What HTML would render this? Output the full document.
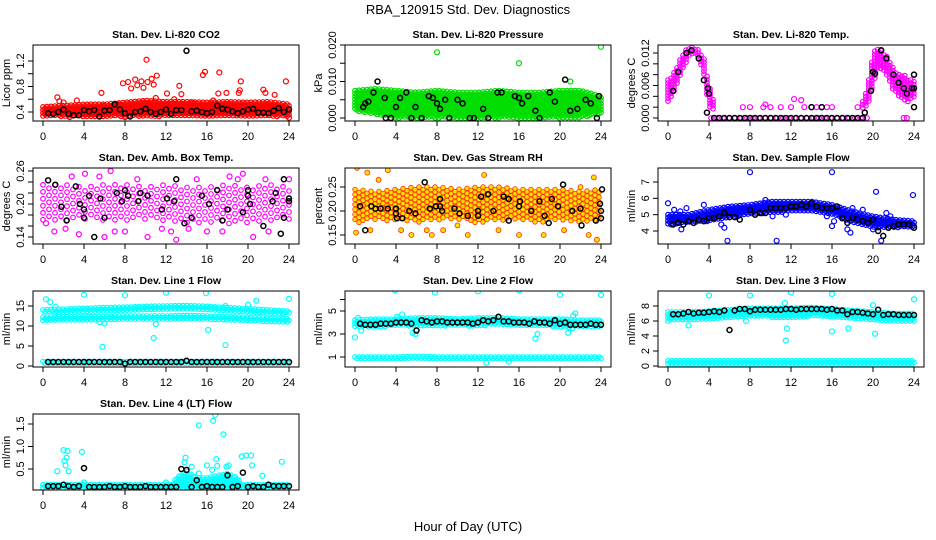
<!DOCTYPE html>
<html><head><meta charset="utf-8"><style>
body{margin:0;background:#fff;}
svg{display:block;font-family:"Liberation Sans",Arial,sans-serif;}
</style></head><body>
<svg id="c" width="936" height="540" viewBox="0 0 936 540">
<rect width="936" height="540" fill="#fff"/>
<text x="468" y="14" font-size="13" text-anchor="middle">RBA_120915  Std. Dev. Diagnostics</text>
<text x="468" y="531" font-size="13" text-anchor="middle">Hour of Day (UTC)</text>
</svg>
<script>
// ---- data ----
const co2BlkT=[0.5,1,1.5,2,2.5,3,3.5,4,4.5,5,5.5,6,6.5,7,7.5,8,8.5,9,9.5,10,10.5,11,11.5,12,12.5,13,13.5,14,14.5,15,15.5,16,16.5,17,17.5,18,18.5,19,19.5,20,20.5,21,21.5,22,22.5,23,23.5,24];
const co2BlkV=[0.38,0.37,0.40,0.44,0.37,0.35,0.35,0.43,0.41,0.43,0.33,0.42,0.43,0.52,0.44,0.38,0.33,0.40,0.41,0.45,0.40,0.37,0.40,0.44,0.37,0.43,0.43,1.36,0.41,0.42,0.40,0.38,0.40,0.50,0.45,0.44,0.41,0.38,0.41,0.44,0.45,0.39,0.39,0.38,0.42,0.46,0.40,0.44];
const co2OutT=[1.4,1.6,2,3.3,5.7,7.8,8.3,8.6,9,9.2,9.6,9.8,10.1,10.2,10.6,10.8,11.1,11,12.1,13.3,13.5,12.8,15.6,15.8,17.2,17.1,17.9,19.1,19.3,19.2,21.5,21.7,22.6,23.7,24,2.6,8,14.6,16.6,6,7.3];
const co2OutV=[0.63,0.57,0.55,0.58,0.70,0.85,0.87,0.77,0.91,0.82,0.88,0.78,1.22,0.87,0.92,0.83,0.97,0.62,0.69,0.81,0.68,0.60,0.98,1.03,1.02,0.69,0.70,0.70,0.88,0.74,0.75,0.70,0.67,0.88,0.31,0.32,0.32,0.55,0.58,0.50,0.52];
const bandH2=[0,2,4,6,8,10,12,14,16,18,20,22,24];
const co2Lo=[0.33,0.33,0.33,0.33,0.33,0.33,0.33,0.33,0.33,0.33,0.33,0.33,0.33];
const co2Hi=[0.48,0.50,0.52,0.52,0.55,0.58,0.56,0.56,0.55,0.56,0.55,0.56,0.52];

const prBlkT=[0.8,1,1.3,1.8,2.2,2.9,3,3.5,4,4.4,5,5.5,5.9,6.5,7.2,7.6,8,8.3,8.8,9.2,10,10.5,11.2,11.6,12.5,13,13.9,14.3,15.6,16,16.3,16.9,17.6,18,19,19.5,20.5,21,21.7,22.5,23,23.6,23.8];
const prBlkV=[0.003,0.004,0.0045,0.007,0.010,0.0055,0,0,0.003,0.0055,0.007,0,0.003,0,0.006,0.0055,0.004,0.0025,0.005,0,0.005,0.004,0,0,0.0025,0,0.007,0.007,0.006,0.0055,0.004,0.006,0.002,0,0.007,0.0045,0.0105,0.002,0.0025,0.005,0.004,0,0.006];
const prOutT=[8,16,24,21];
const prOutV=[0.018,0.015,0.0195,0.010];
const prLo=[0.002,0.001,0.000,0.000,0.000,0.000,0.000,0.000,0.000,0.000,0.000,0.000,0.001];
const prHi=[0.0075,0.008,0.0075,0.007,0.0075,0.007,0.007,0.0075,0.007,0.007,0.0075,0.0075,0.006];

const tpH1=[0,0.5,1,1.5,2,2.5,3,3.5,4,4.5];
const tpLo1=[0.003,0.004,0.007,0.009,0.011,0.012,0.011,0.008,0.002,0.0015];
const tpHi1=[0.007,0.008,0.010,0.012,0.013,0.013,0.0125,0.011,0.006,0.003];
const tpH0=[4.2,19.5];
const tpLo0=[0,0];
const tpHi0=[0,0];
const tpH2=[19,19.5,20,20.5,21,21.5,22,22.5,23,23.5,24];
const tpLo2=[0.0015,0.002,0.006,0.009,0.009,0.007,0.005,0.004,0.003,0.003,0.004];
const tpHi2=[0.003,0.006,0.012,0.013,0.012,0.011,0.009,0.008,0.008,0.007,0.007];
const tpOutT=[7.3,8,9.3,9.5,10,11,12,12.3,13,13.3,14,14.5,15,15.5,16,18.5,23,23.3];
const tpOutV=[0.002,0.002,0.002,0.0025,0.002,0.002,0.002,0.0035,0.0033,0.002,0.002,0.002,0.002,0.002,0.002,0.002,0,0];
const tpBlkT=[0.5,1,1.8,2.3,3,3.5,3.9,4,3.8,4.5,5,5.5,6,6.5,7,7.5,8,8.5,9,9.5,10,10.5,11,11.5,12,12.5,13,13.5,14,14.5,15,15.5,16,16.5,17,17.5,18,18.5,19,14,15,19.2,19.8,20,20.2,20.8,21.3,22,22.5,23,23.3,23.8,24,24,24];
const tpBlkV=[0.005,0.0085,0.012,0.0125,0.011,0.007,0.0055,0.0045,0.001,0,0,0,0,0,0,0,0,0,0,0,0,0,0,0,0,0,0,0,0,0,0,0,0,0,0,0,0,0,0,0.002,0.002,0.001,0.005,0.0085,0.0082,0.0125,0.011,0.008,0.0065,0.0055,0.0045,0.0055,0.008,0.0055,0.002];

const amLo=[0.17,0.165,0.17,0.165,0.17,0.17,0.165,0.165,0.165,0.16,0.165,0.165,0.17];
const amHi=[0.235,0.235,0.23,0.235,0.235,0.23,0.235,0.23,0.23,0.235,0.23,0.235,0.23];
const amOutT=[1.1,2.2,3.5,4.1,5.5,6,6.6,7,8,9.2,10.2,11.6,12.5,13,15,16,17.5,19,19.5,20.5,21.7,22,23.5,24,0.3,2.8,14.2,18.2];
const amOutV=[0.15,0.155,0.145,0.255,0.25,0.14,0.26,0.15,0.15,0.245,0.14,0.155,0.15,0.135,0.245,0.15,0.15,0.245,0.255,0.14,0.245,0.15,0.245,0.245,0.165,0.25,0.155,0.25];
const amBlkT=[0.5,1.2,1.8,2.3,3.2,3.6,4,4,4.5,5,5.6,6,7.2,7.7,8,8.3,9.5,9.3,10.2,11.6,12.1,13,12.8,13.8,14.5,15.5,17,17.5,18,20,20.2,21.5,22.4,22.7,23.5,24,24,23.5,23.2,16.2,19.5,20];
const amBlkV=[0.243,0.235,0.195,0.17,0.232,0.2,0.19,0.175,0.215,0.14,0.21,0.175,0.22,0.205,0.225,0.215,0.22,0.205,0.215,0.19,0.21,0.245,0.205,0.165,0.175,0.215,0.225,0.17,0.19,0.215,0.2,0.16,0.205,0.22,0.175,0.205,0.21,0.245,0.146,0.2,0.185,0.225];

const gsLo=[0.175,0.18,0.18,0.175,0.18,0.18,0.175,0.18,0.18,0.175,0.18,0.175,0.18];
const gsHi=[0.245,0.24,0.245,0.25,0.25,0.245,0.25,0.25,0.245,0.245,0.245,0.24,0.245];
const gsOutT=[0.2,1.2,1.5,2.3,3.2,4.5,5.5,7,7.5,8.6,10,11,12.6,14,16,18.4,20.4,22,22.8,23.3,23.6,0.1];
const gsOutV=[0.29,0.28,0.16,0.265,0.285,0.16,0.15,0.16,0.15,0.16,0.17,0.15,0.275,0.16,0.15,0.15,0.16,0.25,0.15,0.27,0.14,0.155];
const gsBlkT=[0.5,1,1.6,2,2.5,3.2,4,4,4.1,4.6,5.3,5.9,6.8,7.3,7.9,8.3,8.3,8.5,9.7,10.2,11,12,12,12.3,13,13.5,14.5,15,15,16,16.1,17.2,18,18.5,19.2,19.8,21.2,22,23.5,24.1,24,24,23.9,22.1,20.3,18.9];
const gsBlkV=[0.21,0.16,0.21,0.205,0.205,0.205,0.205,0.195,0.185,0.185,0.2,0.195,0.26,0.205,0.21,0.225,0.21,0.2,0.205,0.195,0.19,0.2,0.19,0.23,0.235,0.2,0.23,0.225,0.18,0.21,0.22,0.2,0.22,0.19,0.225,0.21,0.2,0.205,0.18,0.245,0.2,0.185,0.215,0.17,0.255,0.175];

const sfLo=[4.4,4.5,4.6,4.8,5.0,5.1,5.2,5.2,5.0,4.5,4.2,4.2,4.2];
const sfHi=[5.0,5.0,5.3,5.5,5.6,5.8,5.8,5.8,5.6,5.2,4.9,4.7,4.6];
const sfOutT=[0,0.3,0.6,1.2,1.3,1.8,3.5,3.8,5.2,5.5,5.8,8,9.5,10.2,10.6,11.5,15.5,16,16,16.2,17.5,17.8,20.3,20.8,21.3,21.7,23.9,20,18,19];
const sfOutV=[5.7,4.4,5.3,5.2,4.1,5.4,5.6,4.6,4.4,4.2,3.4,7.6,5.9,4.9,3.4,5.0,4.9,7.6,4.3,4.6,4.1,3.9,6.4,3.4,5.1,4.9,6.2,4.1,5.4,5.3];
const sfBlkT=[0.5,1,1.5,2,2.5,3,3.5,4,4.5,5,5.5,6,6.5,7,8,8.5,9,9.5,10,10.5,11,11.5,12,12.5,13,13.5,14,14.5,15,15.5,16,16.5,17,17.5,18,18.5,19,19.5,20,20.5,21,21.5,22,22.5,23,23.5,24];
const sfBlkV=[4.4,4.5,4.4,4.6,4.5,4.7,4.6,4.8,4.8,4.9,5.1,4.85,4.85,4.7,5.3,5.0,5.1,5.1,5.4,5.4,5.4,5.4,5.5,5.5,5.6,5.5,5.7,5.5,5.4,5.4,5.4,5.5,4.8,4.5,4.8,4.7,4.6,4.5,4.7,4.0,3.7,4.2,4.3,4.4,4.4,4.4,4.2];

const l1LoA=[11.3,11.4,11.5,11.5,11.6,11.6,11.6,11.6,11.5,11.4,11.3,11.1,11.0];
const l1HiA=[12.2,12.3,12.3,12.4,12.5,12.5,12.5,12.6,12.5,12.3,12.2,11.9,11.8];
const l1LoB=[13.3,13.4,13.5,13.7,13.9,14.0,14.2,14.3,14.1,13.8,13.4,13.1,13.0];
const l1HiB=[14.0,14.2,14.4,14.6,14.7,14.9,15.0,15.1,14.9,14.6,14.3,14.0,13.7];
const l1LoC=[0.7,0.7,0.7,0.7,0.7,0.7,0.7,0.7,0.7,0.7,0.7,0.7,0.7];
const l1HiC=[1.1,1.1,1.1,1.1,1.1,1.1,1.1,1.1,1.1,1.1,1.1,1.1,1.1];
const l1OutT=[0.3,0.7,1.2,4,5.5,5.8,6,8,10.8,11,12,15.9,16.1,17.8,17.8,20,20.8,24];
const l1OutV=[16.7,16,14.8,17.8,11,4.8,10.6,17.7,7,10.5,18.3,18.2,9,5.2,15,15.3,16.3,16.8];
const stdT=[0.5,1,1.5,2,2.5,3,3.5,4,4.5,5,5.5,6,6.5,7,7.5,8,8.5,9,9.5,10,10.5,11,11.5,12,12.5,13,13.5,14,14.5,15,15.5,16,16.5,17,17.5,18,18.5,19,19.5,20,20.5,21,21.5,22,22.5,23,23.5,24];
const l1BlkV=[1,1,1,1,1,1,1,1,1,1,1,1,1,1,1,0.6,1,1,1,1,1,1,1,1,1,1,1,1.3,1,1,1,1,1,1,1,1,1,1,1,1,1,1,1,1,1,1,1,1];

const l2LoA=[3.6,3.6,3.7,3.7,3.7,3.7,3.7,3.8,3.7,3.7,3.6,3.6,3.6];
const l2HiA=[4.2,4.3,4.3,4.4,4.4,4.3,4.4,4.4,4.3,4.3,4.3,4.2,4.2];
const l2LoB=[0.8,0.8,0.8,0.8,0.8,0.8,0.8,0.8,0.8,0.8,0.8,0.8,0.8];
const l2HiB=[1.0,1.0,1.0,1.05,1.0,1.0,1.0,1.0,1.0,1.0,1.0,1.0,1.0];
const l2OutT=[0,0.3,0.6,3.9,4.1,4.6,5.6,5.9,7.8,12,12.8,16,15,17.6,17.8,20,20.8,21.2,21.3,21.5,24];
const l2OutV=[2.7,4.4,3.3,6.8,4.5,4.7,3.1,3.0,6.6,6.7,0.5,6.8,0.6,2.6,3.0,6.4,3.1,3.5,4.6,4.8,6.4];
const l2BlkV=[3.9,3.8,3.8,3.8,3.9,3.9,3.9,4.0,4.0,4.0,3.9,3.3,4.2,4.1,4.0,4.1,4.1,4.0,4.0,4.0,4.0,4.0,3.9,4.0,4.2,4.1,4.2,4.5,4.1,4.1,4.0,4.0,4.0,3.9,4.1,4.0,4.0,3.9,4.2,3.9,4.0,3.8,3.8,3.8,3.8,3.9,3.8,3.8];

const l3LoA=[6.0,6.2,6.3,6.5,6.6,6.5,6.5,6.6,6.5,6.3,6.0,5.9,6.0];
const l3HiA=[7.2,7.2,7.3,7.5,7.7,7.7,7.7,7.8,7.6,7.4,7.2,7.0,7.0];
const l3LoB=[0.3,0.3,0.3,0.3,0.3,0.3,0.3,0.3,0.3,0.3,0.3,0.3,0.3];
const l3HiB=[0.7,0.7,0.7,0.7,0.7,0.7,0.7,0.7,0.7,0.7,0.7,0.7,0.7];
const l3OutT=[2,4,8,11.4,11.5,11.6,12,16,16,17.6,20,20.2,24,7.6];
const l3OutV=[5.4,9.4,9.4,8.4,3.4,5.0,9.8,9.6,4.6,5.0,8.1,4.3,8.9,6.0];
const l3BlkV=[6.9,6.9,7.0,7.2,7.0,7.1,7.1,7.2,7.3,7.2,7.4,4.8,7.4,7.6,7.6,7.3,7.5,7.5,7.5,7.5,7.5,7.5,7.6,7.6,7.5,7.6,7.6,7.6,7.6,7.6,7.5,7.6,7.4,7.4,6.9,7.2,7.2,7.1,7.0,6.9,7.5,6.8,6.9,6.9,6.8,6.8,6.8,6.8];

const l4LoA=[0.08,0.08,0.08,0.08,0.08,0.08,0.08,0.08,0.08,0.08,0.08,0.08,0.08];
const l4HiA=[0.15,0.15,0.15,0.15,0.15,0.15,0.15,0.15,0.15,0.15,0.15,0.15,0.15];
const l4HB=[12.5,13,14,15,16,17,18,19,19.5];
const l4LoB=[0.1,0.1,0.1,0.1,0.1,0.1,0.1,0.1,0.1];
const l4HiB=[0.1,0.3,0.45,0.3,0.3,0.35,0.4,0.3,0.1];
const l4OutT=[1.4,2,2.1,2.2,2.3,2.4,2.5,3.8,4,13.9,13.8,14.5,15.2,15.2,16,16.5,16.6,16.8,16.9,17,17.6,17.9,18.1,19.4,19.8,20.3,20.4,21.4,23.3,12];
const l4OutV=[0.45,0.92,0.68,0.58,0.75,0.9,0.45,0.88,0.2,0.75,0.65,0.55,1.47,0.4,0.58,0.48,1.57,1.7,0.72,0.57,1.27,0.55,0.58,0.78,0.8,0.8,0.58,0.35,0.66,0.2];
const l4BlkV=[0.12,0.12,0.12,0.15,0.12,0.1,0.12,0.52,0.1,0.1,0.1,0.1,0.12,0.1,0.1,0.12,0.1,0.1,0.1,0.12,0.1,0.1,0.1,0.1,0.1,0.1,0.5,0.48,0.1,0.25,0.1,0.12,0.1,0.1,0.1,0.36,0.1,0.12,0.42,0.1,0.12,0.1,0.1,0.15,0.12,0.12,0.12,0.12];

const xTicks=[0,4,8,12,16,20,24];

// ---- layout ----
const colX=[33,345,658], rowY=[45,168,291,414], W=266, H=76;
const panels=[
 {id:'co2',title:'Stan. Dev. Li-820 CO2',ylab:'Licor ppm',c:0,r:0,col:'#ff0000',map:[0.4,112,0.8,86.5],ticks:[0.4,0.6,0.8,1.0,1.2],labs:['0.4','','0.8','','1.2'],
  bands:[[bandH2,co2Lo,co2Hi]],out:[co2OutT,co2OutV],blk:[co2BlkT,co2BlkV]},
 {id:'pressure',title:'Stan. Dev. Li-820 Pressure',ylab:'kPa',c:1,r:0,col:'#00dd00',map:[0,118,0.02,45],ticks:[0,0.005,0.01,0.015,0.02],labs:['0.000','','0.010','','0.020'],
  bands:[[bandH2,prLo,prHi]],out:[prOutT,prOutV],blk:[prBlkT,prBlkV],dx:2,dy:3},
 {id:'temp',title:'Stan. Dev. Li-820 Temp.',ylab:'degrees C',c:2,r:0,col:'#ff00ff',map:[0,118,0.012,53],ticks:[0,0.002,0.004,0.006,0.008,0.01,0.012],labs:['0.000','','','0.006','','','0.012'],
  bands:[[tpH1,tpLo1,tpHi1],[tpH0,tpLo0,tpHi0],[tpH2,tpLo2,tpHi2]],out:[tpOutT,tpOutV],blk:[tpBlkT,tpBlkV],dx:3},
 {id:'amb-temp',title:'Stan. Dev. Amb. Box Temp.',ylab:'degrees C',c:0,r:1,col:'#ff00ff',map:[0.14,237,0.26,171],ticks:[0.14,0.16,0.18,0.2,0.22,0.24,0.26],labs:['0.14','','','0.20','','','0.26'],
  bands:[[bandH2,amLo,amHi]],out:[amOutT,amOutV],blk:[amBlkT,amBlkV],dx:6,dy:7},
 {id:'gas-rh',title:'Stan. Dev. Gas Stream RH',ylab:'percent',c:1,r:1,col:'#ff3000',fill:'#ffe000',sw:0.8,map:[0.15,235,0.25,187],ticks:[0.15,0.2,0.25],labs:['0.15','0.20','0.25'],
  bands:[[bandH2,gsLo,gsHi]],out:[gsOutT,gsOutV],blk:[gsBlkT,gsBlkV],dx:4,dy:5},
 {id:'sample-flow',title:'Stan. Dev. Sample Flow',ylab:'ml/min',c:2,r:1,col:'#0000ff',map:[4,231,7,182],ticks:[4,5,6,7],labs:['4','5','6','7'],
  bands:[[bandH2,sfLo,sfHi]],out:[sfOutT,sfOutV],blk:[sfBlkT,sfBlkV]},
 {id:'line1-flow',title:'Stan. Dev. Line 1 Flow',ylab:'ml/min',c:0,r:2,col:'#00ffff',map:[0,366,15,306],ticks:[0,5,10,15],labs:['0','5','10','15'],
  bands:[[bandH2,l1LoA,l1HiA],[bandH2,l1LoB,l1HiB],[bandH2,l1LoC,l1HiC]],out:[l1OutT,l1OutV],blk:[stdT,l1BlkV]},
 {id:'line2-flow',title:'Stan. Dev. Line 2 Flow',ylab:'ml/min',c:1,r:2,col:'#00ffff',map:[1,357,5,311],ticks:[1,3,5,6],labs:['1','3','5',''],
  bands:[[bandH2,l2LoA,l2HiA],[bandH2,l2LoB,l2HiB]],out:[l2OutT,l2OutV],blk:[stdT,l2BlkV]},
 {id:'line3-flow',title:'Stan. Dev. Line 3 Flow',ylab:'ml/min',c:2,r:2,col:'#00ffff',map:[0,366,8,306],ticks:[0,2,4,6,8],labs:['0','2','4','6','8'],
  bands:[[bandH2,l3LoA,l3HiA],[bandH2,l3LoB,l3HiB]],out:[l3OutT,l3OutV],blk:[stdT,l3BlkV]},
 {id:'line4-flow',title:'Stan. Dev. Line 4 (LT) Flow',ylab:'ml/min',c:0,r:3,col:'#00ffff',map:[0.5,469,1.5,424],ticks:[0.5,1.0,1.5],labs:['0.5','1.0','1.5'],
  bands:[[bandH2,l4LoA,l4HiA],[l4HB,l4LoB,l4HiB]],out:[l4OutT,l4OutV],blk:[stdT,l4BlkV]}
];

const NS='http://www.w3.org/2000/svg';
const svg=document.getElementById('c');
function mk(tag,attrs,parent){const e=document.createElementNS(NS,tag);for(const k in attrs)e.setAttribute(k,attrs[k]);(parent||svg).appendChild(e);return e;}
function interp(hs,vs,h){for(let i=0;i<hs.length-1;i++){if(h>=hs[i]&&h<=hs[i+1]){const f=hs[i+1]===hs[i]?0:(h-hs[i])/(hs[i+1]-hs[i]);return vs[i]+f*(vs[i+1]-vs[i]);}}return vs[vs.length-1];}

panels.forEach(p=>{
  const x0=colX[p.c], y0=rowY[p.r];
  const xs=h=>x0+10+h*(W-20)/24;
  const k=(p.map[3]-p.map[1])/(p.map[2]-p.map[0]);
  const ys=v=>p.map[1]+(v-p.map[0])*k;
  const g=mk('g',{});
  
  
  const t=mk('text',{x:x0+W/2,y:y0-7,'font-size':10.5,'font-weight':'bold','text-anchor':'middle'},g);
  t.textContent=p.title;
  
  
  const clip=mk('clipPath',{id:'cl'+p.id},g);
  mk('rect',{x:x0,y:y0,width:W,height:H},clip);
  const pts=mk('g',{'clip-path':'url(#cl'+p.id+')',fill:p.fill||'none',stroke:p.col,'stroke-width':p.sw||1.2},g);
  
  
  const dx=p.dx||2, dy=p.dy||3;
  p.bands.forEach(b=>{
    const [hs,lo,hi]=b;
    let n=0;
    for(let px=xs(hs[0]);px<=xs(hs[hs.length-1])+0.01;px+=dx){
      const h=(px-x0-10)*24/(W-20);
      const yl=ys(interp(hs,lo,h)), yh=ys(interp(hs,hi,h));
      const off=(n++%2)*dy/2;
      for(let py=Math.min(yl,yh)+off;py<=Math.max(yl,yh)+0.01;py+=dy){
        mk('circle',{cx:px.toFixed(1),cy:py.toFixed(1),r:2.3},pts);
      }
    }
  });
  p.out[0].forEach((h,i)=>{
    const c=mk('circle',{cx:xs(h),cy:ys(p.out[1][i]),r:2.5},pts);
    
    
  });
  const bg=mk('g',{'clip-path':'url(#cl'+p.id+')',fill:'none',stroke:'#000','stroke-width':1.5},g);
  
  
  p.blk[0].forEach((h,i)=>{
    const c=mk('circle',{cx:xs(h),cy:ys(p.blk[1][i]),r:2.5},bg);
    
    
  });
  const box=mk('rect',{x:x0,y:y0,width:W,height:H,fill:'none',stroke:'#000','stroke-width':1},g);
  
  
  const xa=mk('g',{stroke:'#000','stroke-width':1},g);
  
  
  xTicks.forEach(h=>{
    mk('line',{x1:xs(h),x2:xs(h),y1:y0+H,y2:y0+H+5},xa);
    const l=mk('text',{x:xs(h),y:y0+H+19,'font-size':11,'text-anchor':'middle',stroke:'none'},xa);
    l.textContent=h;
  });
  const ya=mk('g',{stroke:'#000','stroke-width':1},g);
  
  
  p.ticks.forEach((v,i)=>{
    const y=ys(v);
    mk('line',{x1:x0-5,x2:x0,y1:y,y2:y},ya);
    if(p.labs[i]){
      const l=mk('text',{x:0,y:0,'font-size':11,'text-anchor':'middle',stroke:'none',transform:`translate(${x0-9},${y}) rotate(-90)`},ya);
      l.textContent=p.labs[i];
    }
  });
  const yl=mk('text',{x:0,y:0,'font-size':11,'text-anchor':'middle',transform:`translate(${x0-23},${y0+H/2}) rotate(-90)`},g);
  yl.textContent=p.ylab;
  
  
});
</script>
</body></html>
